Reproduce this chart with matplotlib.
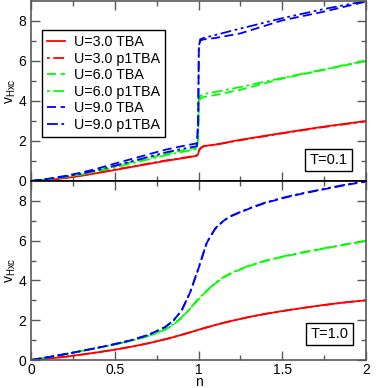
import matplotlib
matplotlib.use("Agg")
import matplotlib.pyplot as plt

plt.rcParams['font.family'] = ['Liberation Sans', 'DejaVu Sans']
plt.rcParams['mathtext.fontset'] = 'custom'
plt.rcParams['mathtext.rm'] = 'Liberation Sans'
plt.rcParams['mathtext.it'] = 'Liberation Sans:italic'

# ---------------- data: T = 0.1 ----------------
n_t01 = [0.0, 0.1, 0.2, 0.3, 0.4, 0.5, 0.6, 0.7, 0.8, 0.9, 0.95, 0.99, 0.998,
         1.002, 1.01, 1.03, 1.1, 1.25, 1.5, 1.75, 2.0]
u3_tba_t01 = [0.0, 0.05, 0.14, 0.26, 0.4, 0.55, 0.7, 0.85, 1.0, 1.13, 1.2, 1.26, 1.35,
              1.5, 1.62, 1.74, 1.82, 2.06, 2.4, 2.72, 3.0]
u3_p1_t01 = [0.0, 0.06, 0.16, 0.28, 0.42, 0.57, 0.72, 0.87, 1.02, 1.15, 1.22, 1.28, 1.38,
             1.52, 1.64, 1.74, 1.81, 2.04, 2.38, 2.7, 2.98]
u6_tba_t01 = [0.0, 0.09, 0.21, 0.35, 0.53, 0.74, 0.95, 1.15, 1.35, 1.52, 1.6, 1.68, 2.2,
              3.9, 4.12, 4.2, 4.3, 4.56, 5.12, 5.56, 6.0]
u6_p1_t01 = [0.0, 0.08, 0.19, 0.32, 0.49, 0.68, 0.88, 1.08, 1.28, 1.45, 1.53, 1.6, 2.1,
             4.0, 4.25, 4.35, 4.45, 4.7, 5.15, 5.58, 6.02]
u9_tba_t01 = [0.0, 0.11, 0.25, 0.42, 0.63, 0.87, 1.1, 1.33, 1.56, 1.74, 1.82, 1.88, 3.0,
              6.6, 7.02, 7.08, 7.15, 7.38, 8.03, 8.47, 8.97]
u9_p1_t01 = [0.0, 0.1, 0.22, 0.37, 0.55, 0.76, 0.98, 1.2, 1.42, 1.6, 1.68, 1.74, 2.8,
             6.7, 7.08, 7.15, 7.3, 7.62, 8.14, 8.6, 9.0]

# ---------------- data: T = 1.0 ----------------
n_t10 = [0.0, 0.1, 0.2, 0.3, 0.4, 0.5, 0.6, 0.7, 0.8, 0.85, 0.9, 0.95, 1.0,
         1.05, 1.1, 1.15, 1.2, 1.3, 1.4, 1.5, 1.6, 1.7, 1.8, 1.9, 2.0]
u3_tba_t10 = [0.0, 0.07, 0.16, 0.27, 0.39, 0.52, 0.67, 0.84, 1.04, 1.15, 1.27, 1.39, 1.52,
              1.64, 1.76, 1.87, 1.97, 2.16, 2.32, 2.46, 2.59, 2.71, 2.82, 2.92, 3.0]
u3_p1_t10 = [0.0, 0.07, 0.16, 0.27, 0.39, 0.52, 0.67, 0.84, 1.04, 1.15, 1.27, 1.39, 1.52,
             1.64, 1.76, 1.87, 1.97, 2.16, 2.32, 2.46, 2.59, 2.71, 2.82, 2.92, 3.0]
u6_tba_t10 = [0.0, 0.14, 0.29, 0.45, 0.61, 0.78, 0.97, 1.2, 1.52, 1.78, 2.12, 2.58, 3.05,
              3.48, 3.85, 4.15, 4.38, 4.72, 4.98, 5.18, 5.36, 5.52, 5.68, 5.84, 5.98]
u6_p1_t10 = [0.0, 0.14, 0.29, 0.45, 0.61, 0.78, 0.97, 1.2, 1.53, 1.8, 2.15, 2.6, 3.08,
             3.5, 3.87, 4.17, 4.4, 4.74, 5.0, 5.2, 5.38, 5.54, 5.7, 5.85, 6.0]
u9_tba_t10 = [0.0, 0.14, 0.29, 0.45, 0.62, 0.8, 1.0, 1.26, 1.65, 1.98, 2.5, 3.4, 4.6,
              5.9, 6.6, 7.0, 7.25, 7.6, 7.9, 8.13, 8.33, 8.5, 8.67, 8.83, 8.97]
u9_p1_t10 = [0.0, 0.14, 0.29, 0.45, 0.62, 0.8, 1.0, 1.26, 1.65, 1.98, 2.5, 3.4, 4.62,
             5.92, 6.62, 7.02, 7.27, 7.62, 7.92, 8.15, 8.35, 8.52, 8.69, 8.85, 8.99]

labels = ['U=3.0 TBA', 'U=3.0 p1TBA', 'U=6.0 TBA', 'U=6.0 p1TBA', 'U=9.0 TBA', 'U=9.0 p1TBA']
colors = ['#ff0000', '#ff0000', '#00ff00', '#00ff00', '#0000ff', '#0000ff']
styles = ['-', (0, (1.5, 2, 6, 2)), (0, (5, 2.5)), (0, (1.5, 2, 6, 2)),
          (0, (5, 2.5)), (0, (6, 2, 1.5, 2, 1.5, 2))]

fig = plt.figure(figsize=(3.9, 3.88), dpi=100)
W, H = 390.0, 388.0
ax1 = fig.add_axes([31 / W, (H - 181) / H, 335 / W, 180 / H])
ax2 = fig.add_axes([31 / W, (H - 360) / H, 335 / W, 179 / H])

top_series = [u3_tba_t01, u3_p1_t01, u6_tba_t01, u6_p1_t01, u9_tba_t01, u9_p1_t01]
bot_series = [u3_tba_t10, u3_p1_t10, u6_tba_t10, u6_p1_t10, u9_tba_t10, u9_p1_t10]

for ys, lab, c, ls in zip(top_series, labels, colors, styles):
    ax1.plot(n_t01, ys, color=c, ls=ls, lw=1.3, label=lab)
for ys, lab, c, ls in zip(bot_series, labels, colors, styles):
    ax2.plot(n_t10, ys, color=c, ls=ls, lw=1.3, label=lab)

for ax in (ax1, ax2):
    ax.set_xlim(0, 2)
    ax.set_ylim(0, 9)
    ax.set_xticks([0, 0.5, 1, 1.5, 2])
    ax.set_xticks([0.25, 0.75, 1.25, 1.75], minor=True)
    ax.set_yticks([0, 2, 4, 6, 8])
    ax.set_yticks([1, 3, 5, 7], minor=True)
    ax.tick_params(which='both', direction='in', top=True, right=True,
                   labelsize=10, color='0.35', width=1)
    ax.tick_params(which='major', length=6.5)
    ax.tick_params(which='minor', length=3.5)
    for s in ax.spines.values():
        s.set_color('0.35')
        s.set_linewidth(1.2)
    ax.set_ylabel(r'v$_{\mathrm{Hxc}}$', fontsize=10, labelpad=0)

ax1.spines['bottom'].set_color('black')
ax2.spines['top'].set_color('black')
ax1.tick_params(labelbottom=False)
ax2.tick_params(axis='x', which='major', pad=2)
ax2.set_xticklabels(['0', '0.5', '1', '1.5', '2'])
ax2.set_xlabel('n', fontsize=10, labelpad=-1)

leg = ax1.legend(loc='upper left', bbox_to_anchor=(0.033, 0.839), borderaxespad=0,
                 fontsize=10.3, frameon=True, fancybox=False, framealpha=1,
                 edgecolor='black', handlelength=1.25, handletextpad=0.6,
                 labelspacing=0.18, borderpad=0.35)
leg.get_frame().set_linewidth(1.0)

box = dict(boxstyle='square,pad=0.3', facecolor='white', edgecolor='black', lw=1.0)
ax1.text(0.887, 0.117, 'T=0.1', transform=ax1.transAxes, ha='center', va='center',
         fontsize=10.5, bbox=box)
ax2.text(0.891, 0.145, 'T=1.0', transform=ax2.transAxes, ha='center', va='center',
         fontsize=10.5, bbox=box)

fig.savefig('out.png', dpi=100)
